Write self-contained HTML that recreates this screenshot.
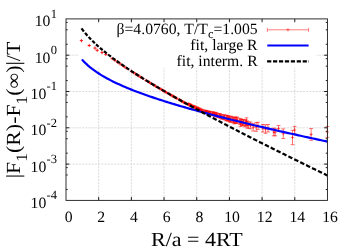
<!DOCTYPE html><html><head><meta charset="utf-8"><style>html,body{margin:0;padding:0;background:#fff}body{width:354px;height:248px;overflow:hidden;font-family:"Liberation Serif",serif}</style></head><body><svg width="354" height="248" viewBox="0 0 354 248" style="display:block">
<rect width="354" height="248" fill="#fff"/>
<path d="M98.68 18.9 V200.4 M131.36 18.9 V200.4 M164.04 18.9 V200.4 M196.72 18.9 V200.4 M229.41 18.9 V200.4 M262.09 18.9 V200.4 M294.77 18.9 V200.4 M66.0 164.10 H327.45 M66.0 127.80 H327.45 M66.0 91.50 H327.45 M66.0 55.20 H327.45" stroke="#d2d2d2" stroke-width="0.8" stroke-dasharray="2.1 1.1" fill="none"/>
<rect x="79" y="18.9" width="237.5" height="49.1" fill="#fff"/>
<path d="M98.68 200.4 v-3.3 M98.68 18.9 v3.3 M131.36 200.4 v-3.3 M131.36 18.9 v3.3 M164.04 200.4 v-3.3 M164.04 18.9 v3.3 M196.72 200.4 v-3.3 M196.72 18.9 v3.3 M229.41 200.4 v-3.3 M229.41 18.9 v3.3 M262.09 200.4 v-3.3 M262.09 18.9 v3.3 M294.77 200.4 v-3.3 M294.77 18.9 v3.3 M66.0 189.47 h1.7 M327.45 189.47 h-1.7 M66.0 175.03 h1.7 M327.45 175.03 h-1.7 M66.0 167.62 h1.7 M327.45 167.62 h-1.7 M66.0 164.10 h3.3 M327.45 164.10 h-3.3 M66.0 153.17 h1.7 M327.45 153.17 h-1.7 M66.0 138.73 h1.7 M327.45 138.73 h-1.7 M66.0 131.32 h1.7 M327.45 131.32 h-1.7 M66.0 127.80 h3.3 M327.45 127.80 h-3.3 M66.0 116.87 h1.7 M327.45 116.87 h-1.7 M66.0 102.43 h1.7 M327.45 102.43 h-1.7 M66.0 95.02 h1.7 M327.45 95.02 h-1.7 M66.0 91.50 h3.3 M327.45 91.50 h-3.3 M66.0 80.57 h1.7 M327.45 80.57 h-1.7 M66.0 66.13 h1.7 M327.45 66.13 h-1.7 M66.0 58.72 h1.7 M327.45 58.72 h-1.7 M66.0 55.20 h3.3 M327.45 55.20 h-3.3 M66.0 44.27 h1.7 M327.45 44.27 h-1.7 M66.0 29.83 h1.7 M327.45 29.83 h-1.7 M66.0 22.42 h1.7 M327.45 22.42 h-1.7" stroke="#000" stroke-width="0.9" fill="none"/>
<path d="M188.28 103.24V104.94M186.38 103.24h3.8M186.38 104.94h3.8 M189.37 103.71V105.49M187.47 103.71h3.8M187.47 105.49h3.8 M190.45 104.17V106.03M188.55 104.17h3.8M188.55 106.03h3.8 M191.51 104.63V106.57M189.61 104.63h3.8M189.61 106.57h3.8 M193.62 105.53V107.63M191.72 105.53h3.8M191.72 107.63h3.8 M194.67 105.98V108.14M192.77 105.98h3.8M192.77 108.14h3.8 M196.72 106.85V109.17M194.82 106.85h3.8M194.82 109.17h3.8 M197.74 107.36V109.76M195.84 107.36h3.8M195.84 109.76h3.8 M198.75 107.87V110.34M196.85 107.87h3.8M196.85 110.34h3.8 M199.75 108.37V110.92M197.85 108.37h3.8M197.85 110.92h3.8 M199.15 110.18h3.2M200.75 108.58v3.2 M200.75 108.87V111.49M198.85 108.87h3.8M198.85 111.49h3.8 M200.14 110.71h3.2M201.74 109.11v3.2 M201.74 109.37V112.05M199.84 109.37h3.8M199.84 112.05h3.8 M201.12 111.01h3.2M202.72 109.41v3.2 M202.72 109.63V112.39M200.82 109.63h3.8M200.82 112.39h3.8 M203.05 111.53h3.2M204.65 109.93v3.2 M204.65 110.08V112.98M202.75 110.08h3.8M202.75 112.98h3.8 M204.01 111.78h3.2M205.61 110.18v3.2 M205.61 110.30V113.27M203.71 110.30h3.8M203.71 113.27h3.8 M204.97 112.11h3.2M206.57 110.51v3.2 M206.57 110.60V113.61M204.67 110.60h3.8M204.67 113.61h3.8 M205.91 112.27h3.2M207.51 110.67v3.2 M207.51 110.72V113.83M205.61 110.72h3.8M205.61 113.83h3.8 M206.85 113.05h3.2M208.45 111.45v3.2 M208.45 111.45V114.65M206.55 111.45h3.8M206.55 114.65h3.8 M207.79 112.85h3.2M209.39 111.25v3.2 M209.39 111.22V114.48M207.49 111.22h3.8M207.49 114.48h3.8 M208.72 112.99h3.2M210.32 111.39v3.2 M210.32 111.36V114.62M208.42 111.36h3.8M208.42 114.62h3.8 M210.55 113.59h3.2M212.15 111.99v3.2 M212.15 111.80V115.37M210.25 111.80h3.8M210.25 115.37h3.8 M211.47 113.70h3.2M213.07 112.10v3.2 M213.07 111.85V115.56M211.17 111.85h3.8M211.17 115.56h3.8 M212.37 114.22h3.2M213.97 112.62v3.2 M213.97 112.43V116.01M212.07 112.43h3.8M212.07 116.01h3.8 M213.27 114.08h3.2M214.87 112.48v3.2 M214.87 112.18V115.98M212.97 112.18h3.8M212.97 115.98h3.8 M214.16 114.60h3.2M215.76 113.00v3.2 M215.76 112.67V116.53M213.86 112.67h3.8M213.86 116.53h3.8 M215.05 114.61h3.2M216.65 113.01v3.2 M216.65 112.71V116.51M214.75 112.71h3.8M214.75 116.51h3.8 M215.94 115.54h3.2M217.54 113.94v3.2 M217.54 113.61V117.46M215.64 113.61h3.8M215.64 117.46h3.8 M217.69 115.55h3.2M219.29 113.95v3.2 M219.29 113.58V117.51M217.39 113.58h3.8M217.39 117.51h3.8 M218.56 115.95h3.2M220.16 114.35v3.2 M220.16 113.68V118.22M218.26 113.68h3.8M218.26 118.22h3.8 M219.42 116.73h3.2M221.02 115.13v3.2 M221.02 114.75V118.70M219.12 114.75h3.8M219.12 118.70h3.8 M220.28 116.88h3.2M221.88 115.28v3.2 M221.88 114.67V119.10M219.98 114.67h3.8M219.98 119.10h3.8 M221.98 117.11h3.2M223.58 115.51v3.2 M223.58 114.78V119.43M221.68 114.78h3.8M221.68 119.43h3.8 M222.83 117.31h3.2M224.43 115.71v3.2 M224.43 114.79V119.83M222.53 114.79h3.8M222.53 119.83h3.8 M224.50 118.20h3.2M226.10 116.60v3.2 M226.10 115.64V120.76M224.20 115.64h3.8M224.20 120.76h3.8 M225.34 117.79h3.2M226.94 116.19v3.2 M226.94 115.16V120.42M225.04 115.16h3.8M225.04 120.42h3.8 M226.16 118.32h3.2M227.76 116.72v3.2 M227.76 115.61V121.03M225.86 115.61h3.8M225.86 121.03h3.8 M226.99 118.51h3.2M228.59 116.91v3.2 M228.59 116.08V120.94M226.69 116.08h3.8M226.69 120.94h3.8 M227.81 118.89h3.2M229.41 117.29v3.2 M229.41 116.21V121.57M227.51 116.21h3.8M227.51 121.57h3.8 M228.62 119.71h3.2M230.22 118.11v3.2 M230.22 117.16V122.26M228.32 117.16h3.8M228.32 122.26h3.8 M229.43 119.10h3.2M231.03 117.50v3.2 M231.03 116.22V121.99M229.13 116.22h3.8M229.13 121.99h3.8 M231.04 119.46h3.2M232.64 117.86v3.2 M232.64 116.71V122.22M230.74 116.71h3.8M230.74 122.22h3.8 M231.84 120.07h3.2M233.44 118.47v3.2 M233.44 117.28V122.87M231.54 117.28h3.8M231.54 122.87h3.8 M232.64 120.86h3.2M234.24 119.26v3.2 M234.24 117.90V123.82M232.34 117.90h3.8M232.34 123.82h3.8 M233.43 120.12h3.2M235.03 118.52v3.2 M235.03 117.31V122.93M233.13 117.31h3.8M233.13 122.93h3.8 M234.22 120.45h3.2M235.82 118.85v3.2 M235.82 117.42V123.48M233.92 117.42h3.8M233.92 123.48h3.8 M235.00 119.90h3.2M236.60 118.30v3.2 M236.60 116.83V122.97M234.70 116.83h3.8M234.70 122.97h3.8 M235.78 120.46h3.2M237.38 118.86v3.2 M237.38 117.70V123.23M235.48 117.70h3.8M235.48 123.23h3.8 M238.10 121.39h3.2M239.70 119.79v3.2 M239.70 118.34V124.44M237.80 118.34h3.8M237.80 124.44h3.8 M238.87 123.16h3.2M240.47 121.56v3.2 M240.47 119.76V126.55M238.57 119.76h3.8M238.57 126.55h3.8 M239.63 121.54h3.2M241.23 119.94v3.2 M241.23 118.83V124.24M239.33 118.83h3.8M239.33 124.24h3.8 M240.39 122.69h3.2M241.99 121.09v3.2 M241.99 119.71V125.67M240.09 119.71h3.8M240.09 125.67h3.8 M241.15 122.60h3.2M242.75 121.00v3.2 M242.75 119.60V125.60M240.85 119.60h3.8M240.85 125.60h3.8 M241.90 122.39h3.2M243.50 120.79v3.2 M243.50 119.69V125.09M241.60 119.69h3.8M241.60 125.09h3.8 M243.40 123.62h3.2M245.00 122.02v3.2 M245.00 120.39V126.86M243.10 120.39h3.8M243.10 126.86h3.8 M244.15 122.87h3.2M245.75 121.27v3.2 M245.75 119.67V126.07M243.85 119.67h3.8M243.85 126.07h3.8 M244.89 121.67h3.2M246.49 120.07v3.2 M246.49 117.90V125.45M244.59 117.90h3.8M244.59 125.45h3.8 M245.63 124.47h3.2M247.23 122.87v3.2 M247.23 120.84V128.10M245.33 120.84h3.8M245.33 128.10h3.8 M247.09 125.08h3.2M248.69 123.48v3.2 M248.69 121.87V128.29M246.79 121.87h3.8M246.79 128.29h3.8 M249.00 125.40h3.2M250.60 123.80v3.2 M250.60 122.00V128.80M248.70 122.00h3.8M248.70 128.80h3.8 M251.60 127.30h3.2M253.20 125.70v3.2 M253.20 123.60V131.00M251.30 123.60h3.8M251.30 131.00h3.8 M254.60 126.95h3.2M256.20 125.35v3.2 M256.20 122.60V131.30M254.30 122.60h3.8M254.30 131.30h3.8 M256.40 125.85h3.2M258.00 124.25v3.2 M258.00 122.30V129.40M256.10 122.30h3.8M256.10 129.40h3.8 M261.30 128.25h3.2M262.90 126.65v3.2 M262.90 124.50V132.00M261.00 124.50h3.8M261.00 132.00h3.8 M263.90 129.10h3.2M265.50 127.50v3.2 M265.50 124.90V133.30M263.60 124.90h3.8M263.60 133.30h3.8 M266.40 128.25h3.2M268.00 126.65v3.2 M268.00 124.50V132.00M266.10 124.50h3.8M266.10 132.00h3.8 M272.20 131.95h3.2M273.80 130.35v3.2 M273.80 128.10V135.80M271.90 128.10h3.8M271.90 135.80h3.8 M273.50 132.30h3.2M275.10 130.70v3.2 M275.10 128.80V135.80M273.20 128.80h3.8M273.20 135.80h3.8 M277.00 128.55h3.2M278.60 126.95v3.2 M278.60 125.50V131.60M276.70 125.50h3.8M276.70 131.60h3.8 M281.70 133.70h3.2M283.30 132.10v3.2 M283.30 128.90V138.50M281.40 128.90h3.8M281.40 138.50h3.8 M290.90 137.50h3.2M292.50 135.90v3.2 M292.50 130.30V144.70M290.60 130.30h3.8M290.60 144.70h3.8 M293.00 130.05h3.2M294.60 128.45v3.2 M294.60 126.40V133.70M292.70 126.40h3.8M292.70 133.70h3.8 M309.50 134.45h3.2M311.10 132.85v3.2 M311.10 128.60V140.30M309.20 128.60h3.8M309.20 140.30h3.8 M325.80 131.95h3.2M327.40 130.35v3.2 M327.40 126.50V137.40M325.50 126.50h3.8M325.50 137.40h3.8" stroke="#ff0000" stroke-width="0.55" fill="none"/>
<path d="M79.80 40.60h3.2M81.40 39.00v3.2 M87.60 45.50h3.2M89.20 43.90v3.2 M93.40 48.10h3.2M95.00 46.50v3.2 M95.60 50.30h3.2M97.20 48.70v3.2 M100.40 52.60h3.2M102.00 51.00v3.2 M104.20 54.40h3.2M105.80 52.80v3.2 M110.62 58.62h3.2M112.22 57.02v3.2 M113.42 60.52h3.2M115.02 58.92v3.2 M116.07 62.30h3.2M117.67 60.70v3.2 M118.60 63.98h3.2M120.20 62.38v3.2 M121.01 65.58h3.2M122.61 63.98v3.2 M123.32 67.09h3.2M124.92 65.49v3.2 M125.54 68.54h3.2M127.14 66.94v3.2 M129.76 71.26h3.2M131.36 69.66v3.2 M131.77 72.54h3.2M133.37 70.94v3.2 M133.73 73.77h3.2M135.33 72.17v3.2 M135.63 74.97h3.2M137.23 73.37v3.2 M137.48 76.12h3.2M139.08 74.52v3.2 M139.28 77.24h3.2M140.88 75.64v3.2 M141.04 78.33h3.2M142.64 76.73v3.2 M144.45 80.41h3.2M146.05 78.81v3.2 M146.10 81.41h3.2M147.70 79.81v3.2 M147.72 82.39h3.2M149.32 80.79v3.2 M149.31 83.34h3.2M150.91 81.74v3.2 M152.40 85.18h3.2M154.00 83.58v3.2 M153.90 86.08h3.2M155.50 84.48v3.2 M156.84 87.80h3.2M158.44 86.20v3.2 M158.27 88.64h3.2M159.87 87.04v3.2 M159.68 89.47h3.2M161.28 87.87v3.2 M161.07 90.28h3.2M162.67 88.68v3.2 M162.44 91.07h3.2M164.04 89.47v3.2 M163.80 91.85h3.2M165.40 90.25v3.2 M165.13 92.62h3.2M166.73 91.02v3.2 M167.75 94.12h3.2M169.35 92.52v3.2 M169.03 94.85h3.2M170.63 93.25v3.2 M170.30 95.57h3.2M171.90 93.97v3.2 M171.55 96.28h3.2M173.15 94.68v3.2 M172.79 96.98h3.2M174.39 95.38v3.2 M174.02 97.67h3.2M175.62 96.07v3.2 M175.23 98.35h3.2M176.83 96.75v3.2 M177.61 99.69h3.2M179.21 98.09v3.2 M178.78 100.34h3.2M180.38 98.74v3.2 M179.95 100.99h3.2M181.55 99.39v3.2 M181.10 101.63h3.2M182.70 100.03v3.2 M182.23 102.26h3.2M183.83 100.66v3.2 M183.36 102.88h3.2M184.96 101.28v3.2 M184.48 103.50h3.2M186.08 101.90v3.2 M186.68 104.09h3.2M188.28 102.49v3.2 M187.77 104.60h3.2M189.37 103.00v3.2 M188.85 105.10h3.2M190.45 103.50v3.2 M189.91 105.60h3.2M191.51 104.00v3.2 M192.02 106.58h3.2M193.62 104.98v3.2 M193.07 107.06h3.2M194.67 105.46v3.2 M195.12 108.01h3.2M196.72 106.41v3.2 M196.14 108.56h3.2M197.74 106.96v3.2 M197.15 109.10h3.2M198.75 107.50v3.2 M198.15 109.64h3.2M199.75 108.04v3.2" stroke="#ff0000" stroke-width="0.85" fill="none"/>
<path d="M267.3 29.8H308.6M267.3 27.8v4M308.6 27.8v4M286.34999999999997 29.8h3.2M287.95 28.2v3.2" stroke="#ff0000" stroke-width="0.5" fill="none"/>
<path d="M81.90 59.37 L83.96 61.62 L86.03 63.67 L88.09 65.55 L90.15 67.29 L92.22 68.92 L94.28 70.45 L96.34 71.90 L98.41 73.27 L100.47 74.57 L102.53 75.82 L104.60 77.02 L106.66 78.17 L108.72 79.29 L110.79 80.36 L112.85 81.40 L114.92 82.41 L116.98 83.39 L119.04 84.34 L121.11 85.27 L123.17 86.18 L125.23 87.06 L127.30 87.93 L129.36 88.78 L131.42 89.61 L133.49 90.42 L135.55 91.22 L137.61 92.01 L139.68 92.78 L141.74 93.54 L143.80 94.29 L145.87 95.02 L147.93 95.75 L149.99 96.46 L152.06 97.16 L154.12 97.86 L156.18 98.55 L158.25 99.22 L160.31 99.89 L162.37 100.56 L164.44 101.21 L166.50 101.86 L168.56 102.50 L170.63 103.13 L172.69 103.76 L174.76 104.38 L176.82 105.00 L178.88 105.61 L180.95 106.21 L183.01 106.81 L185.07 107.41 L187.14 108.00 L189.20 108.58 L191.26 109.16 L193.33 109.74 L195.39 110.31 L197.45 110.88 L199.52 111.44 L201.58 112.00 L203.64 112.56 L205.71 113.11 L207.77 113.66 L209.83 114.20 L211.90 114.74 L213.96 115.28 L216.02 115.82 L218.09 116.35 L220.15 116.88 L222.21 117.41 L224.28 117.93 L226.34 118.45 L228.40 118.97 L230.47 119.48 L232.53 120.00 L234.59 120.51 L236.66 121.02 L238.72 121.52 L240.79 122.02 L242.85 122.52 L244.91 123.02 L246.98 123.52 L249.04 124.01 L251.10 124.51 L253.17 125.00 L255.23 125.49 L257.29 125.97 L259.36 126.46 L261.42 126.94 L263.48 127.42 L265.55 127.90 L267.61 128.38 L269.67 128.85 L271.74 129.33 L273.80 129.80 L275.86 130.27 L277.93 130.74 L279.99 131.20 L282.05 131.67 L284.12 132.13 L286.18 132.60 L288.24 133.06 L290.31 133.52 L292.37 133.98 L294.43 134.44 L296.50 134.89 L298.56 135.35 L300.63 135.80 L302.69 136.25 L304.75 136.70 L306.82 137.15 L308.88 137.60 L310.94 138.05 L313.01 138.50 L315.07 138.94 L317.13 139.38 L319.20 139.83 L321.26 140.27 L323.32 140.71 L325.39 141.15 L327.45 141.59" stroke="#0000ff" stroke-width="2.2" fill="none"/>
<path d="M267.3 45.5H308.6" stroke="#0000ff" stroke-width="2.2" fill="none"/>
<path d="M81.50 28.35 L82.30 29.43 L83.09 30.47 L83.89 31.48 M85.01 32.85 L85.82 33.82 L86.64 34.76 L87.45 35.68 M88.60 36.94 L89.43 37.83 L90.26 38.70 L91.10 39.56 M92.27 40.74 L93.12 41.58 L93.98 42.40 L94.83 43.21 M96.04 44.34 L96.92 45.14 L97.80 45.94 L98.68 46.72 M99.93 47.81 L100.84 48.59 L101.75 49.36 L102.66 50.13 M103.94 51.19 L104.88 51.95 L105.82 52.71 L106.75 53.46 M108.08 54.50 L109.04 55.25 L110.01 55.99 L110.98 56.73 M112.34 57.76 L113.34 58.51 L114.34 59.24 L115.34 59.97 M116.74 61.00 L117.77 61.73 L118.80 62.47 L119.83 63.20 M121.28 64.21 L122.34 64.95 L123.40 65.68 L124.46 66.40 M125.95 67.42 L127.03 68.15 L128.11 68.87 L129.20 69.59 M130.72 70.60 L131.83 71.33 L132.93 72.05 L134.04 72.77 M135.60 73.77 L136.73 74.50 L137.86 75.22 L138.99 75.93 M140.59 76.94 L141.74 77.66 L142.90 78.38 L144.05 79.10 M145.69 80.11 L146.87 80.83 L148.05 81.55 L149.23 82.27 M150.90 83.28 L152.10 84.01 L153.31 84.73 L154.52 85.45 M156.22 86.46 L157.46 87.19 L158.69 87.92 L159.93 88.65 M161.67 89.67 L162.93 90.40 L164.19 91.13 L165.45 91.86 M167.23 92.89 L168.51 93.62 L169.79 94.36 L171.07 95.09 M172.88 96.11 L174.16 96.84 L175.44 97.56 L176.72 98.28 M178.54 99.30 L179.82 100.02 L181.11 100.74 L182.39 101.45 M184.20 102.46 L185.49 103.17 L186.78 103.88 L188.07 104.59 M189.89 105.58 L191.18 106.29 L192.47 107.00 L193.76 107.70 M195.58 108.69 L196.87 109.39 L198.17 110.09 L199.46 110.79 M201.28 111.77 L202.58 112.46 L203.88 113.16 L205.17 113.85 M207.00 114.83 L208.30 115.52 L209.60 116.21 L210.90 116.90 M212.73 117.87 L214.03 118.56 L215.34 119.25 L216.64 119.93 M218.48 120.90 L219.78 121.58 L221.08 122.27 L222.39 122.95 M224.23 123.91 L225.54 124.59 L226.84 125.27 L228.15 125.95 M230.00 126.91 L231.31 127.58 L232.62 128.26 L233.93 128.94 M235.78 129.89 L237.09 130.57 L238.40 131.24 L239.72 131.92 M241.57 132.87 L242.88 133.54 L244.20 134.21 L245.52 134.88 M247.37 135.83 L248.69 136.50 L250.01 137.17 L251.33 137.84 M253.19 138.78 L254.51 139.45 L255.83 140.12 L257.15 140.79 M259.02 141.73 L260.34 142.40 L261.67 143.07 L262.99 143.73 M264.86 144.67 L266.19 145.34 L267.52 146.00 L268.84 146.67 M270.72 147.60 L272.05 148.27 L273.38 148.93 L274.71 149.59 M276.58 150.53 L277.92 151.19 L279.25 151.85 L280.58 152.52 M282.46 153.45 L283.80 154.11 L285.13 154.77 L286.47 155.43 M288.36 156.37 L289.69 157.03 L291.03 157.69 L292.37 158.35 M294.26 159.28 L295.60 159.94 L296.94 160.60 L298.28 161.26 M300.18 162.19 L301.52 162.85 L302.87 163.50 L304.21 164.16 M306.11 165.09 L307.45 165.75 L308.80 166.40 L310.14 167.06 M312.04 167.99 L313.38 168.64 L314.73 169.29 L316.07 169.95 M317.97 170.87 L319.31 171.52 L320.66 172.18 L322.00 172.83 M323.90 173.75 L325.08 174.32 L326.27 174.90 L327.45 175.47" stroke="#000" stroke-width="2.2" fill="none"/>
<path d="M267.1 61.3H309" stroke="#000" stroke-width="2.2" stroke-dasharray="4.2 1.73" fill="none"/>
<rect x="66.0" y="18.9" width="261.45" height="181.5" fill="none" stroke="#262626" stroke-width="0.95"/>
<g font-family="'Liberation Serif', serif" fill="#000" text-rendering="geometricPrecision" style="will-change:opacity;opacity:0.99">
<text x="68.60" y="222.2" font-size="15.7" text-anchor="middle">0</text>
<text x="101.28" y="222.2" font-size="15.7" text-anchor="middle">2</text>
<text x="133.96" y="222.2" font-size="15.7" text-anchor="middle">4</text>
<text x="166.64" y="222.2" font-size="15.7" text-anchor="middle">6</text>
<text x="199.32" y="222.2" font-size="15.7" text-anchor="middle">8</text>
<text x="232.01" y="222.2" font-size="15.7" text-anchor="middle">10</text>
<text x="264.69" y="222.2" font-size="15.7" text-anchor="middle">12</text>
<text x="297.37" y="222.2" font-size="15.7" text-anchor="middle">14</text>
<text x="330.05" y="222.2" font-size="15.7" text-anchor="middle">16</text>
<text x="57.0" y="207.90" font-size="15.7" text-anchor="end">10<tspan dx="0.3" dy="-8.6" font-size="12.5">-4</tspan></text>
<text x="57.0" y="171.60" font-size="15.7" text-anchor="end">10<tspan dx="0.3" dy="-8.6" font-size="12.5">-3</tspan></text>
<text x="57.0" y="135.30" font-size="15.7" text-anchor="end">10<tspan dx="0.3" dy="-8.6" font-size="12.5">-2</tspan></text>
<text x="57.0" y="99.00" font-size="15.7" text-anchor="end">10<tspan dx="0.3" dy="-8.6" font-size="12.5">-1</tspan></text>
<text x="57.0" y="62.70" font-size="15.7" text-anchor="end">10<tspan dx="0.3" dy="-8.6" font-size="12.5">0</tspan></text>
<text x="57.0" y="26.40" font-size="15.7" text-anchor="end">10<tspan dx="0.3" dy="-8.6" font-size="12.5">1</tspan></text>
<text transform="translate(151.0,246.3) scale(1.10,1)" font-size="20">R/a = 4RT</text>
<text transform="translate(20.4,110.0) rotate(-90) scale(1.093,1)" font-size="20" text-anchor="middle">|F<tspan dy="7" font-size="16">1</tspan><tspan dy="-7">(R)-F</tspan><tspan dy="7" font-size="16">1</tspan><tspan dy="-7">(∞)|/T</tspan></text>
<text x="257.6" y="34.2" font-size="15.7" text-anchor="end">β=4.0760, T/T<tspan dy="4" font-size="12.5">c</tspan><tspan dy="-4">=1.005</tspan></text>
<text x="257.6" y="49.9" font-size="15.7" text-anchor="end">fit, large R</text>
<text x="257.6" y="65.5" font-size="15.7" text-anchor="end">fit, interm. R</text>
</g>
</svg></body></html>
